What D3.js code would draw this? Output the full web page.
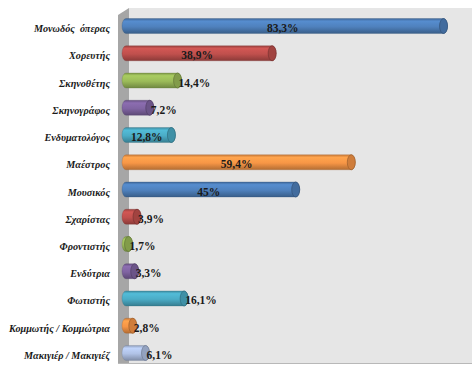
<!DOCTYPE html>
<html><head><meta charset="utf-8">
<script src="https://cdn.jsdelivr.net/npm/d3@7"></script>
<style>body{margin:0;background:#fff}svg{display:block}</style>
</head><body>
<script>
const categories = ["Μονωδός  όπερας","Χορευτής","Σκηνοθέτης","Σκηνογράφος","Ενδυματολόγος","Μαέστρος","Μουσικός","Σχαρίστας","Φροντιστής","Ενδύτρια","Φωτιστής","Κομμωτής / Κομμώτρια","Μακιγιέρ / Μακιγιέζ"];
const values = [83.3,38.9,14.4,7.2,12.8,59.4,45,3.9,1.7,3.3,16.1,2.8,6.1];
const valueLabels = ["83,3%","38,9%","14,4%","7,2%","12,8%","59,4%","45%","3,9%","1,7%","3,3%","16,1%","2,8%","6,1%"];
const labelInside = [true,true,false,false,true,true,true,false,false,false,false,false,false];
const colors = ["#4f81bd","#c0504d","#9bbb59","#8064a2","#4bacc6","#f79646","#4f81bd","#c0504d","#9bbb59","#8064a2","#4bacc6","#f79646","#b0c2e6"];

const W=472,H=365;
const svg=d3.select("body").append("svg").attr("width",W).attr("height",H);
const defs=svg.append("defs");

const x=d3.scaleLinear().domain([0,100]).range([122,508]);
const y=d3.scaleBand().domain(categories).range([12.4,366.6]).paddingInner(0.45).paddingOuter(0.225);

// walls
svg.append("rect").attr("x",129).attr("y",8).attr("width",W-129).attr("height",355).attr("fill","#e6e6e6");
svg.append("path").attr("d","M118,15 L129,8 L129,363 L118,363 Z").attr("fill","#a6a6a6");
svg.append("line").attr("x1",118).attr("x2",W).attr("y1",363.5).attr("y2",363.5).attr("stroke","#b8b8b8").attr("stroke-width",1);

colors.forEach((c,i)=>{
  const g=defs.append("linearGradient").attr("id","g"+i).attr("x1",0).attr("y1",0).attr("x2",0).attr("y2",1);
  const col=d3.color(c);
  g.append("stop").attr("offset","0%").attr("stop-color",col.darker(0.6));
  g.append("stop").attr("offset","18%").attr("stop-color",col.brighter(0.25));
  g.append("stop").attr("offset","55%").attr("stop-color",col);
  g.append("stop").attr("offset","100%").attr("stop-color",col.darker(0.9));
});

const bh=y.bandwidth();
const rx=4;
const bars=svg.append("g").selectAll("g").data(values).join("g");
bars.append("path")
  .attr("d",(d,i)=>{
    const x0=x(0), x1=x(d), t=y(categories[i]), b=t+bh;
    return `M${x0+rx},${t} L${x1},${t} A${rx},${bh/2} 0 0 1 ${x1},${b} L${x0+rx},${b} A${rx},${bh/2} 0 0 1 ${x0+rx},${t} Z`;
  })
  .attr("fill",(d,i)=>`url(#g${i})`)
  .attr("stroke",(d,i)=>d3.color(colors[i]).darker(1.2)).attr("stroke-width",0.5).attr("stroke-opacity",0.6);
bars.append("ellipse")
  .attr("cx",(d)=>x(d)).attr("cy",(d,i)=>y(categories[i])+bh/2)
  .attr("rx",rx).attr("ry",bh/2)
  .attr("fill",(d,i)=>d3.color(colors[i]).darker(0.5))
  .attr("stroke",(d,i)=>d3.color(colors[i]).darker(1.3)).attr("stroke-width",0.7);

// value labels
svg.append("g").selectAll("text").data(values).join("text")
  .attr("x",(d,i)=>labelInside[i]?(x(0)+x(d))/2:x(d)+1)
  .attr("y",(d,i)=>y(categories[i])+bh/2+6)
  .attr("text-anchor",(d,i)=>labelInside[i]?"middle":"start")
  .attr("font-family","'Liberation Serif','Times New Roman',serif")
  .attr("font-weight","bold").attr("font-size",11.5).attr("fill","#1a1a1a")
  .text((d,i)=>valueLabels[i]);

// category labels
svg.append("g").selectAll("text").data(categories).join("text")
  .attr("x",110).attr("y",d=>y(d)+bh/2+6)
  .attr("text-anchor","end")
  .attr("font-family","'Liberation Serif','Times New Roman',serif")
  .attr("font-weight","bold").attr("font-style","italic").attr("font-size",10.2).attr("fill","#1a1a1a")
  .attr("xml:space","preserve")
  .text(d=>d);
</script>
</body></html>
